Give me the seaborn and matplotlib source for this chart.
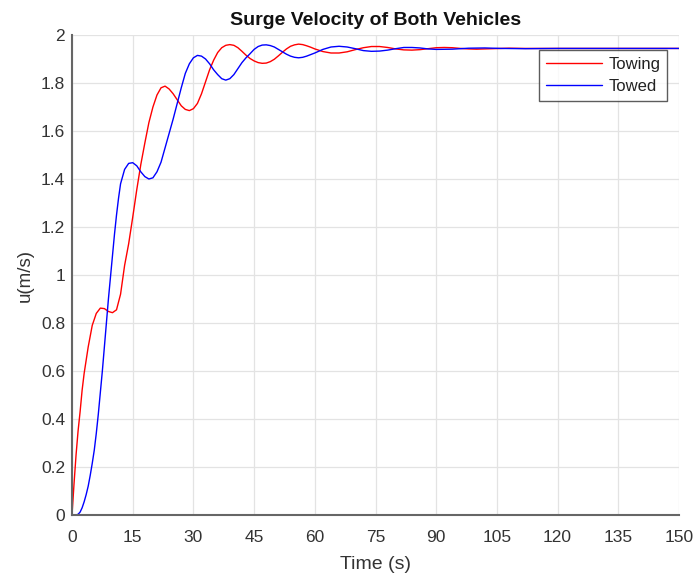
import matplotlib
matplotlib.use("Agg")
import matplotlib.pyplot as plt
import numpy as np
import pandas as pd
import seaborn as sns

# Surge velocity samples (time in s, velocity in m/s)
towing_t = [0, 0.5, 1, 1.5, 2, 2.5, 3, 4, 5, 6, 7, 8, 9, 10, 11, 12, 13, 14, 15, 16,
            17, 18, 19, 20, 21, 22, 23, 24, 25, 26, 27, 28, 29, 30, 31, 32, 33, 34,
            35, 36, 37, 38, 39, 40, 41, 42, 43, 44, 45, 46, 47, 48, 49, 50, 51, 52,
            53, 54, 55, 56, 57, 58, 59, 60, 62, 64, 66, 68, 70, 72, 74, 76, 78, 80,
            82, 84, 86, 88, 90, 92, 94, 96, 98, 100, 104, 108, 112, 120, 150]
towing_u = [0, 0.13, 0.25, 0.35, 0.43, 0.52, 0.59, 0.70, 0.79, 0.84, 0.862, 0.86,
            0.848, 0.843, 0.855, 0.92, 1.04, 1.13, 1.24, 1.355, 1.46, 1.55, 1.635,
            1.70, 1.75, 1.78, 1.787, 1.775, 1.755, 1.73, 1.705, 1.69, 1.685, 1.693,
            1.715, 1.755, 1.805, 1.855, 1.895, 1.927, 1.947, 1.957, 1.96, 1.957,
            1.947, 1.932, 1.916, 1.902, 1.892, 1.885, 1.882, 1.883, 1.889, 1.899,
            1.913, 1.928, 1.942, 1.953, 1.959, 1.962, 1.96, 1.955, 1.949, 1.942,
            1.931, 1.925, 1.925, 1.93, 1.939, 1.947, 1.952, 1.952, 1.948, 1.942,
            1.938, 1.937, 1.939, 1.943, 1.947, 1.948, 1.947, 1.944, 1.942, 1.941,
            1.943, 1.945, 1.944, 1.944, 1.944]

towed_t = [0, 1, 1.5, 2, 2.5, 3, 3.5, 4, 4.5, 5, 5.5, 6, 6.5, 7, 7.5, 8, 8.5, 9, 9.5,
           10, 10.5, 11, 11.5, 12, 13, 14, 15, 16, 17, 18, 19, 20, 21, 22, 23, 24,
           25, 26, 27, 28, 29, 30, 31, 32, 33, 34, 35, 36, 37, 38, 39, 40, 41, 42,
           43, 44, 45, 46, 47, 48, 49, 50, 51, 52, 53, 54, 55, 56, 57, 58, 60, 62,
           64, 66, 68, 70, 72, 74, 76, 78, 80, 82, 84, 86, 88, 90, 94, 98, 102, 106,
           112, 120, 150]
towed_u = [0, 0.0, 0.003, 0.012, 0.03, 0.055, 0.085, 0.12, 0.165, 0.215, 0.27, 0.34,
           0.42, 0.51, 0.60, 0.70, 0.80, 0.90, 0.99, 1.08, 1.17, 1.25, 1.32, 1.38,
           1.44, 1.465, 1.468, 1.455, 1.43, 1.41, 1.40, 1.405, 1.43, 1.47, 1.53,
           1.59, 1.65, 1.715, 1.78, 1.84, 1.88, 1.905, 1.915, 1.912, 1.90, 1.88,
           1.855, 1.835, 1.818, 1.812, 1.818, 1.835, 1.86, 1.885, 1.905, 1.922,
           1.94, 1.952, 1.958, 1.959, 1.956, 1.95, 1.94, 1.93, 1.92, 1.912, 1.907,
           1.905, 1.907, 1.912, 1.925, 1.94, 1.95, 1.953, 1.95, 1.943, 1.935, 1.932,
           1.933, 1.937, 1.943, 1.948, 1.948, 1.946, 1.942, 1.94, 1.941, 1.945,
           1.946, 1.944, 1.943, 1.944, 1.944]

series_names = ["Towing", "Towed"]
x_ticks = list(range(0, 151, 15))
y_ticks = [0, 0.2, 0.4, 0.6, 0.8, 1, 1.2, 1.4, 1.6, 1.8, 2]
y_tick_labels = ["0", "0.2", "0.4", "0.6", "0.8", "1", "1.2", "1.4", "1.6", "1.8", "2"]

df = pd.concat([
    pd.DataFrame({"t": towing_t, "u": towing_u, "vehicle": series_names[0]}),
    pd.DataFrame({"t": towed_t, "u": towed_u, "vehicle": series_names[1]}),
], ignore_index=True)

sns.set_style("white")
plt.rcParams["font.family"] = ["Liberation Sans", "DejaVu Sans"]

fig = plt.figure(figsize=(6.94, 5.77), dpi=100)
ax = fig.add_axes([72 / 694, 1 - 515 / 577, 607 / 694, 480 / 577])

sns.lineplot(data=df, x="t", y="u", hue="vehicle", hue_order=series_names,
             palette=["#ff0000", "#0000ff"], estimator=None, sort=False,
             linewidth=1.0, ax=ax)

ax.set_xlim(0, 150)
ax.set_ylim(0, 2)
ax.set_xticks(x_ticks)
ax.set_yticks(y_ticks)
ax.set_yticklabels(y_tick_labels)
ax.grid(True, color="#e3e3e3", linewidth=0.9)
ax.set_axisbelow(True)

for side in ["top", "right"]:
    ax.spines[side].set_visible(False)
for side in ["left", "bottom"]:
    ax.spines[side].set_color("#666666")
    ax.spines[side].set_linewidth(1.5)

ax.tick_params(direction="in", length=4, width=1, color="#555555",
               labelsize=12.5, labelcolor="#333333")
ax.tick_params(axis="x", pad=11)
ax.tick_params(axis="y", pad=5)

ax.set_xlabel("Time (s)", fontsize=14, color="#333333", labelpad=8)
ax.set_ylabel("u(m/s)", fontsize=13.5, color="#333333", labelpad=5)
ax.set_title("Surge Velocity of Both Vehicles", fontsize=14,
             fontweight="bold", color="#111111", pad=7)

leg = ax.legend(loc="upper right", bbox_to_anchor=(0.98, 0.969),
                fontsize=12, frameon=True, fancybox=False, handlelength=3.4,
                borderpad=0.4, labelspacing=0.45, handletextpad=0.35,
                borderaxespad=0)
leg.get_frame().set_edgecolor("#333333")
leg.get_frame().set_linewidth(1.0)
for txt in leg.get_texts():
    txt.set_color("#222222")

fig.savefig("out.png", dpi=100)
